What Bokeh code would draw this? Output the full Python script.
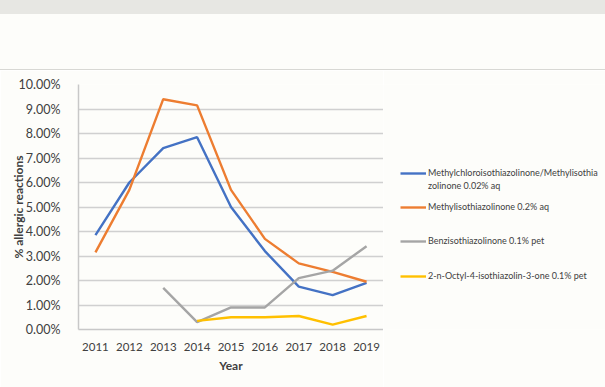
from bokeh.plotting import figure
from bokeh.models import (Range1d, FixedTicker, PrintfTickFormatter, Legend, LegendItem, Div)
from bokeh.layouts import column, row
from bokeh.embed import file_html
from bokeh.resources import INLINE

years_all = [2011, 2012, 2013, 2014, 2015, 2016, 2017, 2018, 2019]
mci_mi = [3.85, 6.0, 7.4, 7.85, 5.0, 3.2, 1.75, 1.4, 1.9]
mi = [3.15, 5.7, 9.4, 9.15, 5.7, 3.7, 2.7, 2.35, 1.95]
years_bit = [2013, 2014, 2015, 2016, 2017, 2018, 2019]
bit = [1.7, 0.3, 0.9, 0.9, 2.1, 2.4, 3.4]
years_oit = [2014, 2015, 2016, 2017, 2018, 2019]
oit = [0.35, 0.5, 0.5, 0.55, 0.2, 0.55]

labels = ["Methylchloroisothiazolinone/Methylisothia",
          "Methylisothiazolinone 0.2% aq",
          "Benzisothiazolinone 0.1% pet",
          "2-n-Octyl-4-isothiazolin-3-one 0.1% pet"]
label_cont = "zolinone 0.02% aq"
colors = ["#4472C4", "#ED7D31", "#A5A5A5", "#FFC000"]

BG = "#fdfdfa"
FONT = "Lato"
TXT = "#404040"

p = figure(width=383, height=317, output_backend="svg", toolbar_location=None,
           x_range=Range1d(2010.5, 2019.5), y_range=Range1d(0, 10),
           min_border_left=78, min_border_right=0, min_border_top=14,
           min_border_bottom=58)
p.background_fill_color = BG
p.border_fill_color = BG
p.outline_line_color = None

p.xgrid.grid_line_color = None
p.ygrid.grid_line_color = "#d0d0d0"
p.ygrid.grid_line_width = 1.5
p.yaxis.ticker = FixedTicker(ticks=list(range(0, 11)))
p.yaxis.formatter = PrintfTickFormatter(format="%.2f%%")
p.xaxis.ticker = FixedTicker(ticks=years_all)
for ax in (p.xaxis, p.yaxis):
    ax.major_tick_line_color = None
    ax.minor_tick_line_color = None
    ax.axis_line_color = "#c8c8c8"
    ax.axis_line_width = 1.5
    ax.major_label_text_font = FONT
    ax.major_label_text_font_size = "12.5px"
    ax.major_label_text_color = TXT
    ax.axis_label_text_font = FONT
    ax.axis_label_text_font_size = "12px"
    ax.axis_label_text_font_style = "bold"
    ax.axis_label_text_color = TXT
p.xaxis.major_label_text_font_size = "11.5px"
p.xaxis.major_label_standoff = 7
p.yaxis.major_label_standoff = 12
p.xaxis.axis_label = "Year"
p.yaxis.axis_label = "% allergic reactions"
p.xaxis.axis_label_standoff = 4
p.yaxis.axis_label_standoff = -10

p.line(years_all, mci_mi, line_color=colors[0], line_width=2.4)
p.line(years_all, mi, line_color=colors[1], line_width=2.4)
p.line(years_bit, bit, line_color=colors[2], line_width=2.4)
p.line(years_oit, oit, line_color=colors[3], line_width=2.4)

# legend panel (separate figure so legend is not clipped by the plot frame)
q = figure(width=222, height=317, output_backend="svg", toolbar_location=None,
           x_axis_location=None, y_axis_location=None,
           x_range=Range1d(0, 1), y_range=Range1d(0, 1),
           min_border=0, min_border_left=0, min_border_right=0,
           min_border_top=0, min_border_bottom=0)
q.grid.visible = False
q.outline_line_color = None
q.background_fill_color = BG
q.border_fill_color = BG
lr = [q.line([-10, -9], [-10, -10], line_color=c, line_width=2.4) for c in colors]
ld = q.line([-10, -9], [-10, -10], line_alpha=0)

def add_leg(label, renderer, y):
    lg = Legend(items=[LegendItem(label=label, renderers=[renderer])],
                location=(17, y), padding=0, margin=0, spacing=0,
                border_line_color=None, background_fill_alpha=0,
                glyph_width=26, glyph_height=10, label_height=10,
                label_standoff=2, label_text_font=FONT,
                label_text_font_size="9px", label_text_color=TXT)
    q.add_layout(lg)

add_leg(labels[0], lr[0], 151)
add_leg(label_cont, ld, 138)
add_leg(labels[1], lr[1], 117)
add_leg(labels[2], lr[2], 83)
add_leg(labels[3], lr[3], 48)

top_band = Div(width=605, height=14, styles={"background-color": "#e7e7e3", "margin": "0"})
header = Div(width=605, height=56, styles={"background-color": BG, "border-bottom": "1px solid #d8d8d4",
                                             "box-sizing": "border-box", "margin": "0"})
layout = column(top_band, header, row(p, q, spacing=0), spacing=0)
open("out.html", "w").write(file_html(layout, INLINE))
